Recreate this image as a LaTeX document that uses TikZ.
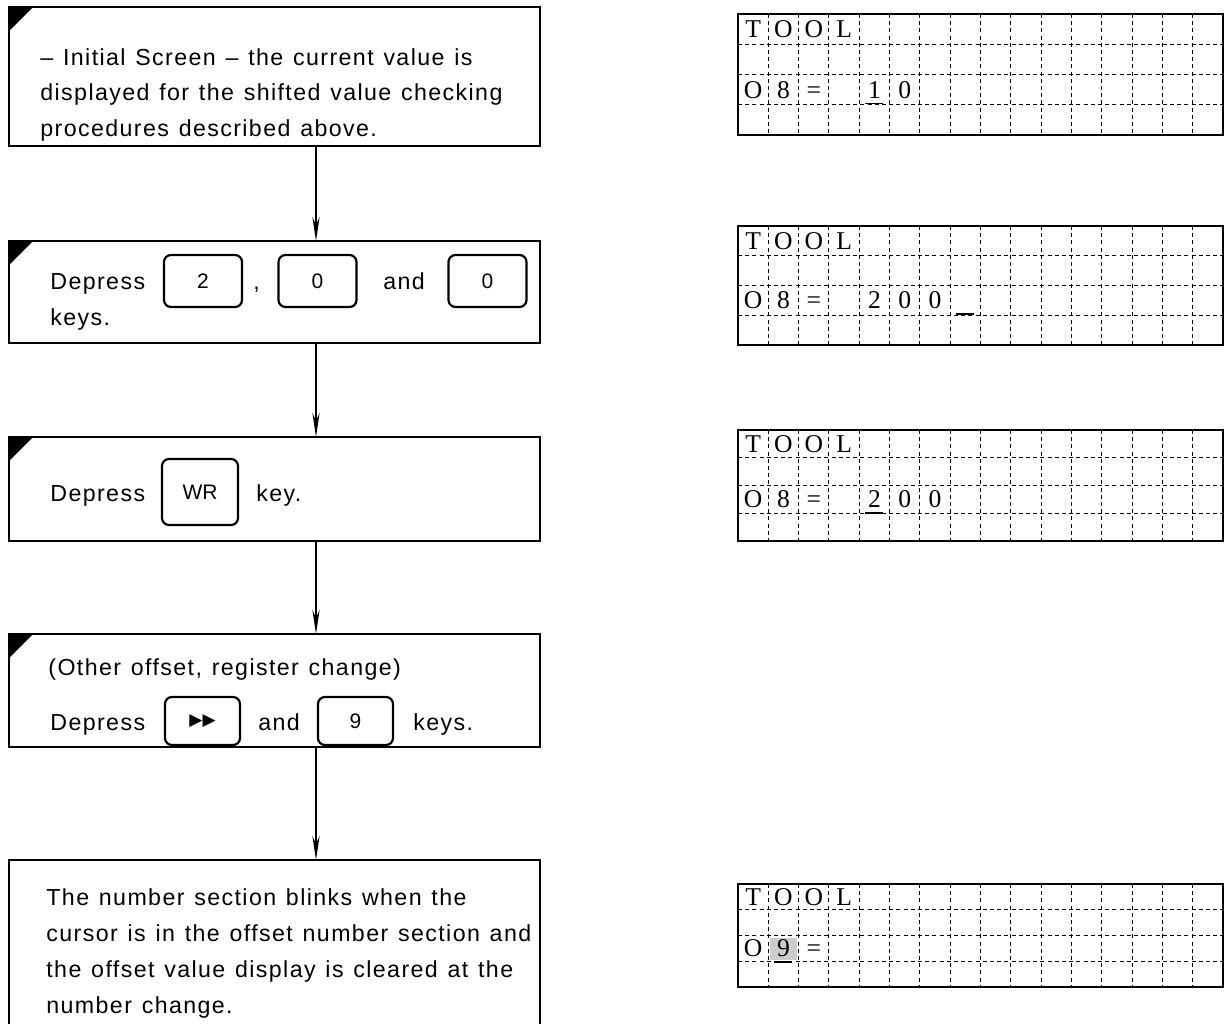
\documentclass[tikz,border=0pt]{standalone}
\usepackage{fontspec}
\newfontfamily\boxfont[LetterSpace=6,WordSpace=1.25]{Liberation Sans}
\newfontfamily\keyfont{Liberation Sans}
\newfontfamily\symfont{DejaVu Sans}
\newfontfamily\lcdfont{Liberation Serif}
\usetikzlibrary{arrows.meta,calc}
\newcommand\lc[5]{\node[lcdch] (#1) at ($(#2.north west)!#4!(#2.south west) + ({(#3-0.5)*485/16},0)$) {#5};}
\newcommand\lcdpanel[4]{%
  \node[lcd, minimum height={#4*0.5pt}] (#1) at (#2,#3) {};
  \foreach \i in {1,...,15}
    \draw[griddash] ($(#1.north west)!\i/16!(#1.north east)$) -- ($(#1.south west)!\i/16!(#1.south east)$);
  \foreach \j in {1,2,3}
    \draw[griddash] ($(#1.north west)!\j/4!(#1.south west)$) -- ($(#1.north east)!\j/4!(#1.south east)$);
}
\begin{document}
\begin{tikzpicture}[x=0.5pt,y=-0.5pt,
  stepbox/.style={draw, line width=1pt, anchor=north west, minimum width=265.5pt, inner sep=0pt, outer sep=0pt},
  txt/.style={anchor=base west, inner sep=0pt, font=\boxfont\fontsize{11.6}{17.75}\selectfont},
  keybox/.style={draw, line width=1.1pt, rounded corners=3.5pt, minimum width=39pt, minimum height=26pt, inner sep=0pt, font=\keyfont\fontsize{10.5}{12}\selectfont},
  flow/.style={line width=0.7pt, -{Stealth[length=12pt,width=3.6pt]}},
  lcd/.style={draw, line width=0.8pt, anchor=north west, minimum width=242.5pt, inner sep=0pt, outer sep=0pt},
  griddash/.style={line width=0.45pt, dash pattern=on 2pt off 1.6pt},
  lcdch/.style={anchor=center, inner sep=0pt, text height=8.5pt, text depth=0pt, font=\lcdfont\fontsize{12.8}{14}\selectfont},
  cornerfill/.style={fill=black}]
\useasboundingbox[fill=white] (0,0) rectangle (1226,1023);

% ---- left flow boxes ----
\node[stepbox, minimum height=69.5pt] (b1) at (9,7) {};
\node[stepbox, minimum height=51pt] (b2) at (9,241) {};
\node[stepbox, minimum height=52pt] (b3) at (9,437) {};
\node[stepbox, minimum height=56.5pt] (b4) at (9,634) {};
\node[stepbox, draw=none, minimum height=100pt] (b5) at (9,860) {};
\draw[line width=1pt] (b5.south west) -- (b5.north west) -- (b5.north east) -- (b5.south east);

\foreach \b in {b1,b2,b3,b4}
  \fill[cornerfill] (\b.north west) -- ++(24,0) -- ++(-24,24) -- cycle;

% texts
\node[txt] (t1a) at (40,65) {– Initial Screen – the current value is};
\node[txt] (t1b) at (40,100) {displayed for the shifted value checking};
\node[txt] (t1c) at (40,136) {procedures described above.};

\node[txt] (t2a) at (50,289) {Depress};
\node[txt] (t2b) at (50,325) {keys.};
\node[keybox] (k1) at (203,281) {2};
\node[txt] (t2c) at (253,289) {,};
\node[keybox] (k2) at (317.5,281) {0};
\node[txt] (t2d) at (383,289) {and};
\node[keybox] (k3) at (487.5,281) {0};

\node[txt] (t3a) at (50,501) {Depress};
\node[keybox, minimum width=38pt, minimum height=33pt] (k4) at (200,492) {WR};
\node[txt] (t3b) at (256,501) {key.};

\node[txt] (t4a) at (48,675) {(Other offset, register change)};
\node[txt] (t4b) at (50,730) {Depress};
\node[keybox, minimum width=37.5pt, minimum height=24pt, font=\symfont\fontsize{8.5}{9}\selectfont] (k5) at (202.5,721) {▶▶};
\node[txt] (t4c) at (258,730) {and};
\node[keybox, minimum width=37.5pt, minimum height=24pt] (k6) at (355.5,721) {9};
\node[txt] (t4d) at (413,730) {keys.};

\node[txt] (t5a) at (46,905) {The number section blinks when the};
\node[txt] (t5b) at (46,941) {cursor is in the offset number section and};
\node[txt] (t5c) at (46,977) {the offset value display is cleared at the};
\node[txt] (t5d) at (46,1013) {number change.};

% connectors
\coordinate (ax) at (316,0);
\draw[flow] (b1.south -| ax) -- (b2.north -| ax);
\draw[flow] (b2.south -| ax) -- (b3.north -| ax);
\draw[flow] (b3.south -| ax) -- (b4.north -| ax);
\draw[flow] (b4.south -| ax) -- (b5.north -| ax);

% ---- LCD panels ----
\fill[gray!40] (770,938) rectangle (797,960);
\lcdpanel{p1}{738}{14}{121}
\lcdpanel{p2}{738}{226}{119}
\lcdpanel{p3}{738}{430}{111}
\lcdpanel{p4}{738}{884}{103}

\foreach \p in {p1,p2,p3,p4}{
  \lc{\p T}{\p}{1}{0.125}{T}
  \lc{\p O1}{\p}{2}{0.125}{O}
  \lc{\p O2}{\p}{3}{0.125}{O}
  \lc{\p L}{\p}{4}{0.125}{L}
  \lc{\p r}{\p}{1}{0.625}{O}
}
\lc{p1n}{p1}{2}{0.625}{8}
\lc{p1e}{p1}{3}{0.625}{=}
\lc{p1d1}{p1}{5}{0.625}{1}
\lc{p1d2}{p1}{6}{0.625}{0}
\draw[line width=0.8pt] ($(p1d1.south)+(-9,5)$) -- ($(p1d1.south)+(9,5)$);

\lc{p2n}{p2}{2}{0.625}{8}
\lc{p2e}{p2}{3}{0.625}{=}
\lc{p2d1}{p2}{5}{0.625}{2}
\lc{p2d2}{p2}{6}{0.625}{0}
\lc{p2d3}{p2}{7}{0.625}{0}
\coordinate (p2cur) at ($(p2.north west)!0.625!(p2.south west) + ({7.5*485/16},0)$);
\draw[line width=0.8pt] ($(p2cur)+(-9,13.5)$) -- ($(p2cur)+(9,13.5)$);

\lc{p3n}{p3}{2}{0.625}{8}
\lc{p3e}{p3}{3}{0.625}{=}
\lc{p3d1}{p3}{5}{0.625}{2}
\lc{p3d2}{p3}{6}{0.625}{0}
\lc{p3d3}{p3}{7}{0.625}{0}
\draw[line width=0.8pt] ($(p3d1.south)+(-9,5)$) -- ($(p3d1.south)+(9,5)$);

\lc{p4n}{p4}{2}{0.625}{9}
\lc{p4e}{p4}{3}{0.625}{=}
\draw[line width=0.8pt] ($(p4n.south)+(-9,5)$) -- ($(p4n.south)+(9,5)$);
\end{tikzpicture}
\end{document}
